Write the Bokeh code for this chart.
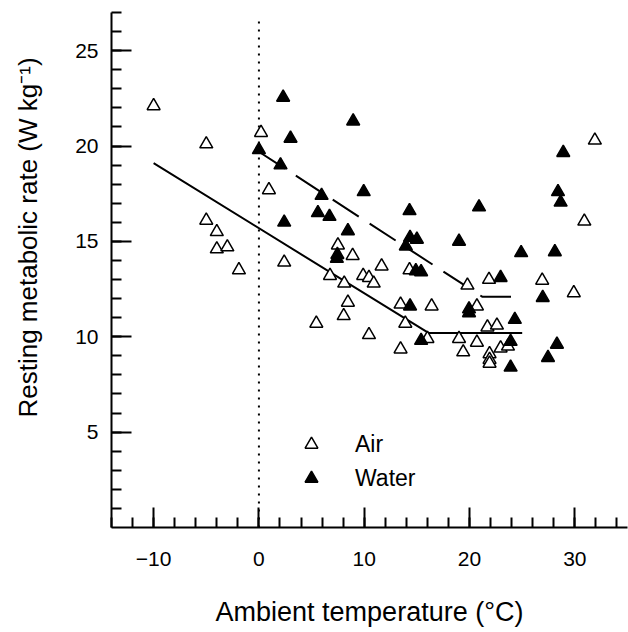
from bokeh.plotting import figure
from bokeh.models import FixedTicker, Legend, LegendItem, Range1d
from bokeh.embed import file_html
from bokeh.resources import INLINE

# Air (open triangles)
air_x = [-10.0, -5.0, -5.0, -4.0, -4.0, -3.0, -1.9, 0.2, 0.95, 2.4,
         7.5, 8.9, 11.65, 6.75, 9.9, 10.45, 10.9, 8.1, 8.45, 8.05,
         5.45, 10.45, 14.3, 13.45, 16.4, 20.7, 13.9, 16.0, 19.0, 20.7,
         13.45, 19.4, 19.8, 21.85, 21.7, 22.6, 21.9, 21.9, 21.9, 22.95,
         23.65, 26.9, 29.9, 30.9, 31.9]
air_y = [22.1, 20.1, 16.1, 15.5, 14.6, 14.7, 13.5, 20.7, 17.7, 13.9,
         14.8, 14.25, 13.7, 13.2, 13.2, 13.1, 12.8, 12.8, 11.8, 11.1,
         10.7, 10.1, 13.5, 11.7, 11.6, 11.6, 10.7, 9.9, 9.9, 9.7,
         9.35, 9.2, 12.7, 13.0, 10.5, 10.6, 9.1, 8.8, 8.6, 9.4,
         9.5, 12.95, 12.3, 16.05, 20.3]

# Water (filled triangles)
water_x = [2.3, 8.95, 3.0, 0.0, 2.05, 5.95, 9.95, 5.6, 6.7, 2.4,
           8.45, 7.45, 7.4, 14.3, 20.9, 14.35, 15.0, 13.95, 19.0, 24.9,
           28.1, 14.9, 15.4, 22.95, 14.35, 19.95, 19.95, 26.95, 24.3, 15.4,
           23.9, 28.3, 27.45, 23.9, 28.9, 28.4, 28.65]
water_y = [22.55, 21.3, 20.4, 19.8, 19.0, 17.4, 17.6, 16.5, 16.3, 16.0,
           15.55, 14.3, 14.1, 16.6, 16.8, 15.2, 15.1, 14.75, 15.0, 14.4,
           14.45, 13.45, 13.4, 13.1, 11.6, 11.45, 11.25, 12.05, 10.9, 9.8,
           9.75, 9.6, 8.9, 8.4, 19.65, 17.6, 17.05]

# Fitted broken-stick lines
air_fit_x = [-10.0, 16.1, 25.0]
air_fit_y = [19.1, 10.2, 10.2]
water_fit_x = [0.0, 21.2, 25.0]
water_fit_y = [19.7, 12.1, 12.1]

# Reference line at 0 degC
zero_x = [0.0, 0.0]
zero_y = [0.0, 26.6]

x_ticks = [-10, 0, 10, 20, 30]
x_minor = list(range(-14, 36, 2))
y_ticks = [5, 10, 15, 20, 25]
y_minor = list(range(1, 28))

x_title = "Ambient temperature (°C)"
y_title = "Resting metabolic rate (W kg⁻¹)"

FONT = "Liberation Sans"
NBSP = "\u00a0"

p = figure(width=628, height=632,
           x_range=Range1d(-14, 35), y_range=Range1d(0, 27),
           output_backend="svg", toolbar_location=None,
           min_border_left=111, min_border_right=1,
           min_border_top=12, min_border_bottom=105)
p.outline_line_color = None
p.xgrid.visible = False
p.ygrid.visible = False
p.background_fill_color = "white"
p.border_fill_color = "white"

p.line(zero_x, zero_y, line_color="black", line_width=2, line_dash="2 6")
p.line(air_fit_x, air_fit_y, line_color="black", line_width=2)
p.line(water_fit_x, water_fit_y, line_color="black", line_width=2, line_dash="31 13")

r_air = p.scatter(air_x, air_y, marker="triangle", size=13,
                  fill_color="white", line_color="black", line_width=1.5)
r_water = p.scatter(water_x, water_y, marker="triangle", size=13,
                    fill_color="black", line_color="black", line_width=1.5)

for ax in (p.xaxis[0], p.yaxis[0]):
    ax.axis_line_width = 2
    ax.axis_line_color = "black"
    ax.major_tick_in = 20
    ax.major_tick_out = 0
    ax.minor_tick_in = 10
    ax.minor_tick_out = 0
    ax.major_tick_line_width = 2
    ax.minor_tick_line_width = 2
    ax.major_label_text_font = FONT
    ax.major_label_text_font_size = "21px"
    ax.major_label_text_color = "black"
    ax.axis_label_text_font = FONT
    ax.axis_label_text_font_style = "normal"
    ax.axis_label_text_color = "black"

p.xaxis[0].axis_label_text_font_size = "27px"
p.yaxis[0].axis_label_text_font_size = "26px"
p.xaxis[0].ticker = FixedTicker(ticks=x_ticks, minor_ticks=x_minor)
p.yaxis[0].ticker = FixedTicker(ticks=y_ticks, minor_ticks=y_minor)
p.xaxis[0].axis_label = x_title
# leading no-break spaces move the rotated title up, as in the original
p.yaxis[0].axis_label = NBSP * 9 + y_title
p.xaxis[0].major_label_standoff = 24
p.yaxis[0].major_label_standoff = 13
p.xaxis[0].axis_label_standoff = 28
p.yaxis[0].axis_label_standoff = 29

legend = Legend(items=[LegendItem(label="Air", renderers=[r_air]),
                       LegendItem(label="Water", renderers=[r_water])],
                location=(184, 33), orientation="vertical",
                border_line_color=None, background_fill_alpha=0,
                padding=0, margin=0, spacing=2,
                glyph_width=32, glyph_height=32, label_standoff=28,
                label_text_font=FONT, label_text_font_size="23px",
                label_text_color="black", label_height=32)
p.add_layout(legend, "center")

open("out.html", "w").write(file_html(p, INLINE))
